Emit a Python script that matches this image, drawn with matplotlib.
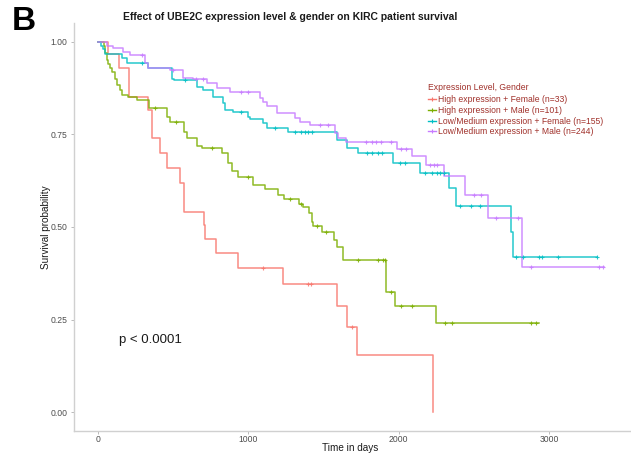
import numpy as np
import matplotlib
matplotlib.use("Agg")
import matplotlib.pyplot as plt
from matplotlib.lines import Line2D

plt.rcParams['font.family'] = ['Liberation Sans', 'DejaVu Sans']

# ---------------- data ----------------
labels = ["High expression + Female (n=33)",
          "High expression + Male (n=101)",
          "Low/Medium expression + Female (n=155)",
          "Low/Medium expression + Male (n=244)"]
colors = ["#F8766D", "#7CAE00", "#00BFC4", "#C77CFF"]

red_t = [0, 67, 140, 207, 333, 360, 413, 460, 547, 573, 707, 713, 787, 933,
         1233, 1587, 1660, 1720, 2227]
red_s = [1.0, 0.967, 0.93, 0.85, 0.816, 0.74, 0.70, 0.66, 0.62, 0.54, 0.505,
         0.467, 0.43, 0.39, 0.346, 0.287, 0.23, 0.154, 0.0]
red_end = 2227
red_cens = [1100, 1400, 1415, 1690]

green_t = [0, 40, 47, 60, 67, 80, 93, 113, 127, 147, 160, 200, 260, 340, 460,
           480, 573, 593, 660, 693, 827, 867, 893, 933, 1033, 1113, 1200, 1240,
           1340, 1367, 1407, 1427, 1433, 1493, 1567, 1593, 1627, 1913, 1973, 2247]
green_s = [1.0, 0.99, 0.97, 0.95, 0.94, 0.93, 0.92, 0.90, 0.885, 0.87, 0.857,
           0.85, 0.843, 0.822, 0.797, 0.784, 0.757, 0.74, 0.72, 0.714, 0.70,
           0.673, 0.65, 0.635, 0.613, 0.603, 0.586, 0.575, 0.562, 0.555, 0.538,
           0.514, 0.503, 0.487, 0.465, 0.446, 0.41, 0.324, 0.286, 0.24]
green_end = 2933
green_cens = [380, 520, 760, 1000, 1280, 1353, 1460, 1520, 1733, 1860, 1893,
              1907, 1947, 2013, 2087, 2307, 2353, 2880, 2913]

cyan_t = [0, 20, 33, 47, 160, 193, 333, 493, 507, 660, 700, 767, 833, 847, 900,
          1000, 1013, 1100, 1127, 1267, 1593, 1660, 1727, 1960, 2140, 2333,
          2380, 2747, 2760]
cyan_s = [1.0, 0.99, 0.98, 0.967, 0.957, 0.943, 0.93, 0.90, 0.897, 0.878, 0.87,
          0.85, 0.835, 0.816, 0.81, 0.797, 0.792, 0.78, 0.768, 0.757, 0.735,
          0.713, 0.70, 0.673, 0.646, 0.605, 0.557, 0.486, 0.419]
cyan_end = 3320
cyan_cens = [293, 580, 950, 1180, 1313, 1350, 1380, 1400, 1427, 1787, 1820,
             1860, 1887, 2007, 2040, 2173, 2220, 2253, 2273, 2300, 2407, 2480,
             2540, 2780, 2827, 2933, 2953, 3060, 3320]

purple_t = [0, 60, 100, 167, 213, 313, 333, 480, 567, 633, 727, 793, 880, 1080,
            1100, 1127, 1193, 1313, 1347, 1413, 1580, 1600, 1647, 1987, 2087,
            2180, 2300, 2440, 2593, 2820]
purple_s = [1.0, 0.99, 0.984, 0.973, 0.965, 0.943, 0.93, 0.924, 0.903, 0.9,
            0.889, 0.876, 0.865, 0.849, 0.838, 0.827, 0.808, 0.795, 0.784,
            0.776, 0.754, 0.74, 0.73, 0.711, 0.692, 0.668, 0.638, 0.586, 0.524,
            0.392]
purple_end = 3367
purple_cens = [290, 500, 650, 700, 950, 1000, 1480, 1527, 1780, 1820, 1847,
               1880, 1947, 2013, 2047, 2207, 2233, 2253, 2500, 2547, 2647, 2793,
               2880, 3333, 3360]

series = [(red_t, red_s, red_end, red_cens),
          (green_t, green_s, green_end, green_cens),
          (cyan_t, cyan_s, cyan_end, cyan_cens),
          (purple_t, purple_s, purple_end, purple_cens)]

# ---------------- figure ----------------
W, H = 631, 455
fig = plt.figure(figsize=(W / 100, H / 100), dpi=100)
ax = fig.add_axes([74 / W, 1 - 430.5 / H, (630 - 74) / W, (430.5 - 23.5) / H])

for (t, s, tend, cens), col in zip(series, colors):
    tt = list(t) + [tend]
    ss = list(s) + [s[-1]]
    ax.step(tt, ss, where='post', color=col, lw=1.1, alpha=0.85, zorder=3)
    t_arr = np.array(t)
    s_arr = np.array(s)
    idx = np.searchsorted(t_arr, np.array(cens), side='right') - 1
    ax.plot(cens, s_arr[idx], linestyle='none', marker='+', ms=3.5, mew=0.8,
            color=col, alpha=0.85, zorder=4)

ax.set_xlim(-160, 3540)
ax.set_ylim(-0.05, 1.05)
ax.set_xticks([0, 1000, 2000, 3000])
ax.set_yticks([0, 0.25, 0.5, 0.75, 1.0])
ax.set_yticklabels(["0.00", "0.25", "0.50", "0.75", "1.00"])

for sp in ['top', 'right']:
    ax.spines[sp].set_visible(False)
for sp in ['left', 'bottom']:
    ax.spines[sp].set_color('#d0d0d0')
    ax.spines[sp].set_linewidth(1.0)
ax.tick_params(axis='both', length=2.5, width=0.6, color='#b0b0b0',
               labelsize=6.2, labelcolor='#4d4d4d', pad=2)
ax.tick_params(axis='x', pad=1)

ax.set_xlabel("Time in days", fontsize=7.2, color='#1a1a1a')
ax.set_ylabel("Survival probability", fontsize=7.2, color='#1a1a1a')
ax.xaxis.set_label_coords((350 - 74) / 556, (430.5 - 443) / 407)
ax.yaxis.set_label_coords((51 - 74) / 556, 0.5)

ax.text(140, 0.195, "p < 0.0001", fontsize=9.5, color='#1a1a1a',
        ha='left', va='center')

fig.text(290 / W, 1 - 17 / H,
         "Effect of UBE2C expression level & gender on KIRC patient survival",
         fontsize=7.5, fontweight='bold', ha='center', va='center',
         color='#1a1a1a')
fig.text(12 / W, 1 - 22 / H, "B", fontsize=24, fontweight='bold',
         ha='left', va='center', color='black')

handles = [Line2D([0], [0], color=c, lw=1.0, marker='+', ms=3.5, mew=0.8)
           for c in colors]
leg = fig.legend(handles, labels, loc='upper left',
                 bbox_to_anchor=(428 / W, 1 - 83 / H), frameon=False,
                 fontsize=6.2, title="Expression Level, Gender",
                 title_fontsize=6.2, handlelength=0.9, handletextpad=0.3,
                 labelspacing=0.22, borderpad=0, borderaxespad=0)
leg._legend_box.align = "left"
leg._legend_box.sep = 2
for txt in leg.get_texts():
    txt.set_color('#a0302a')
leg.get_title().set_color('#a0302a')

fig.savefig("out.png", dpi=100)
